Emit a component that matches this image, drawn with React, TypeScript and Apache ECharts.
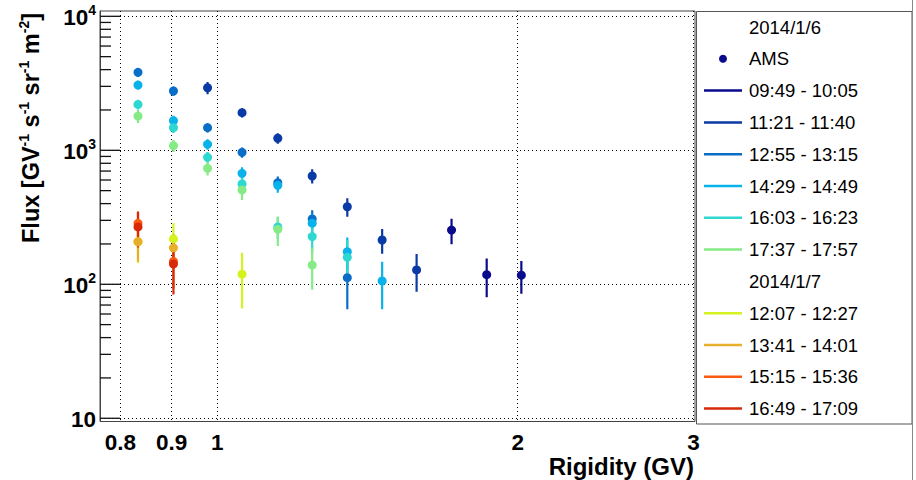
import React, { useEffect, useRef } from "react";
import * as echarts from "echarts";

// ---- axis ticks ----
const RIGIDITY_TICKS = [0.8, 0.9, 1, 2, 3];
const FLUX_TICKS = [10, 100, 1000, 10000];
const FLUX_MINOR = [20, 30, 40, 50, 60, 70, 80, 90, 200, 300, 400, 500, 600, 700, 800, 900, 2000, 3000, 4000, 5000, 6000, 7000, 8000, 9000];

// ---- axis ranges ----
const X_MIN = 0.7631;
const X_MAX = 3.0107;
const Y_MIN = 9.46;
const Y_MAX = 10955;

// ---- legend headers ----
const DAY1 = "2014/1/6";
const DAY2 = "2014/1/7";
const MARKER_LABEL = "AMS";

// ---- series (name, colour) ----
const NAMES_DAY1 = ["09:49 - 10:05", "11:21 - 11:40", "12:55 - 13:15", "14:29 - 14:49", "16:03 - 16:23", "17:37 - 17:57"];
const NAMES_DAY2 = ["12:07 - 12:27", "13:41 - 14:01", "15:15 - 15:36", "16:49 - 17:09"];
const COLORS_DAY1 = ["#0a0a8c", "#0a3aa6", "#0a6ec8", "#0ab2ea", "#2cd8d0", "#86ea86"];
const COLORS_DAY2 = ["#d6f21e", "#e8b02a", "#fa5a14", "#d82a0a"];

// ---- data: rigidity (GV), flux, flux error ----
const R_0949 = [1.717, 1.862, 2.017];
const F_0949 = [254, 118, 117];
const E_0949 = [55, 38, 32];

const R_1121 = [0.978, 1.059, 1.15, 1.245, 1.35, 1.463, 1.584];
const F_1121 = [2930, 1910, 1230, 643, 379, 214, 128];
const E_1121 = [310, 150, 113, 78, 60, 45, 40];

const R_1255 = [0.833, 0.904, 0.978, 1.059, 1.15, 1.245, 1.35];
const F_1255 = [3820, 2770, 1475, 966, 573, 307, 112];
const E_1255 = [280, 220, 120, 85, 65, 50, 47];

const R_1429 = [0.833, 0.904, 0.978, 1.059, 1.15, 1.245, 1.35, 1.463];
const F_1429 = [3070, 1663, 1109, 673, 548, 286, 175, 106];
const E_1429 = [230, 150, 100, 75, 65, 48, 48, 41];

const R_1603 = [0.833, 0.904, 0.978, 1.059, 1.15, 1.245, 1.35];
const F_1603 = [2200, 1475, 887, 561, 268, 227, 159];
const E_1603 = [180, 130, 85, 65, 50, 55, 55];

const R_1737 = [0.833, 0.904, 0.978, 1.059, 1.15, 1.245];
const F_1737 = [1800, 1082, 734, 506, 257, 139];
const E_1737 = [200, 110, 86, 80, 64, 48];

const R_1207 = [0.833, 0.904, 1.059];
const F_1207 = [208, 218, 119];
const E_1207 = [64, 67, 53];

const R_1341 = [0.833, 0.904];
const F_1341 = [208, 187];
const E_1341 = [60, 50];

const R_1515 = [0.833, 0.904];
const F_1515 = [285, 148];
const E_1515 = [65, 55];

const R_1649 = [0.833, 0.904];
const F_1649 = [268, 142];
const E_1649 = [80, 58];

const SERIES_R = [R_0949, R_1121, R_1255, R_1429, R_1603, R_1737, R_1207, R_1341, R_1515, R_1649];
const SERIES_F = [F_0949, F_1121, F_1255, F_1429, F_1603, F_1737, F_1207, F_1341, F_1515, F_1649];
const SERIES_E = [E_0949, E_1121, E_1255, E_1429, E_1603, E_1737, E_1207, E_1341, E_1515, E_1649];

const FONT = "Liberation Sans";

export default function App() {
  const ref = useRef<HTMLDivElement>(null);

  useEffect(() => {
    document.body.style.margin = "0";
    if (!ref.current) return;
    const chart = echarts.init(ref.current, undefined, { renderer: "svg" });

    const names = [...NAMES_DAY1, ...NAMES_DAY2];
    const colors = [...COLORS_DAY1, ...COLORS_DAY2];

    const series: any[] = [];

    // y-axis tick marks, placed on the axis scale at the left frame, pointing inward
    const tickSeries = (vals: number[], len: number) => ({
      type: "scatter",
      silent: true,
      clip: false,
      xAxisIndex: 0,
      yAxisIndex: 0,
      symbol: "rect",
      symbolSize: [len, 1.3],
      symbolOffset: [len / 2, 0],
      itemStyle: { color: "#111", opacity: 1 },
      data: vals.map((v) => [X_MIN, v]),
      z: 3,
    });
    series.push(tickSeries(FLUX_TICKS, 20));
    series.push(tickSeries(FLUX_MINOR, 11));

    names.forEach((name, i) => {
      const color = colors[i];
      const R = SERIES_R[i];
      const F = SERIES_F[i];
      const E = SERIES_E[i];
      series.push({
        type: "custom",
        name: name + " err",
        xAxisIndex: 0,
        yAxisIndex: 0,
        silent: true,
        clip: true,
        encode: { x: 0, y: 1 },
        data: R.map((r, j) => [r, F[j], E[j]]),
        renderItem: (params: any, api: any) => {
          const x = api.value(0);
          const y = api.value(1);
          const e = api.value(2);
          const p1 = api.coord([x, y + e]);
          const p2 = api.coord([x, Math.max(y - e, 1)]);
          return {
            type: "line",
            shape: { x1: p1[0], y1: p1[1], x2: p2[0], y2: p2[1] },
            style: { stroke: color, lineWidth: 2.2 },
          };
        },
      });
      series.push({
        type: "scatter",
        name,
        xAxisIndex: 0,
        yAxisIndex: 0,
        symbol: "circle",
        symbolSize: 9,
        itemStyle: { color, opacity: 1 },
        data: R.map((r, j) => [r, F[j]]),
      });
    });

    // legend (graphic)
    const rowY0 = 27;
    const rowStep = 31.8;
    const textX = 749;
    const legendEls: any[] = [
      {
        type: "rect",
        shape: { x: 696.5, y: 11.5, width: 215.5, height: 412.5 },
        style: { fill: "#fff", stroke: "#555", lineWidth: 1 },
        z: 10,
      },
    ];
    const rows: { kind: string; label: string; color?: string }[] = [];
    rows.push({ kind: "header", label: DAY1 });
    rows.push({ kind: "marker", label: MARKER_LABEL, color: COLORS_DAY1[0] });
    NAMES_DAY1.forEach((n, i) => rows.push({ kind: "line", label: n, color: COLORS_DAY1[i] }));
    rows.push({ kind: "header", label: DAY2 });
    NAMES_DAY2.forEach((n, i) => rows.push({ kind: "line", label: n, color: COLORS_DAY2[i] }));
    rows.forEach((row, i) => {
      const y = rowY0 + rowStep * i;
      if (row.kind === "line") {
        legendEls.push({
          type: "line",
          shape: { x1: 704, y1: y, x2: 742, y2: y },
          style: { stroke: row.color, lineWidth: 2.5 },
          z: 11,
        });
      } else if (row.kind === "marker") {
        legendEls.push({
          type: "circle",
          shape: { cx: 723, cy: y, r: 4 },
          style: { fill: row.color },
          z: 11,
        });
      }
      legendEls.push({
        type: "text",
        x: textX,
        y,
        style: {
          text: row.label,
          fill: "#000",
          font: `18.5px "${FONT}"`,
          align: "left",
          verticalAlign: "middle",
        },
        z: 11,
      });
    });

    const graphic: any[] = [
      ...legendEls,
      {
        type: "line",
        shape: { x1: 912.5, y1: 0, x2: 912.5, y2: 480 },
        style: { stroke: "#888", lineWidth: 1 },
        z: 12,
      },
      {
        type: "text",
        x: 30,
        y: 128,
        rotation: Math.PI / 2,
        style: {
          text: "{m|Flux [GV}{s|-1}{m| s}{s|-1}{m| sr}{s|-1}{m| m}{s|-2}{m|]}",
          align: "center",
          verticalAlign: "middle",
          fill: "#000",
          rich: {
            m: { fontSize: 23.5, fontWeight: "bold", fontFamily: FONT, fill: "#000", lineHeight: 26, verticalAlign: "bottom" },
            s: { fontSize: 14, fontWeight: "bold", fontFamily: FONT, fill: "#000", lineHeight: 26, verticalAlign: "top" },
          },
        },
      },
      {
        type: "text",
        x: 694,
        y: 466,
        style: {
          text: "Rigidity (GV)",
          align: "right",
          verticalAlign: "middle",
          fill: "#000",
          font: `bold 24px "${FONT}"`,
        },
      },
    ];

    const option: any = {
      animation: false,
      backgroundColor: "#fff",
      grid: {
        left: 100,
        right: 221,
        top: 11,
        bottom: 58.5,
        show: true,
        borderColor: "#444",
        borderWidth: 1,
        backgroundColor: "transparent",
      },
      xAxis: {
        type: "log",
        logBase: 10,
        min: X_MIN,
        max: X_MAX,
        axisLine: { show: false },
        axisTick: { show: false, customValues: RIGIDITY_TICKS },
        axisLabel: {
          customValues: RIGIDITY_TICKS,
          formatter: (v: number) => String(Math.round(v * 10) / 10),
          fontSize: 22.5,
          fontWeight: "bold",
          fontFamily: FONT,
          color: "#000",
          margin: 9,
        },
        splitLine: { show: true, lineStyle: { color: "#000", type: [1, 3], width: 1 } },
        minorTick: { show: false },
      },
      yAxis: {
        type: "log",
        logBase: 10,
        min: Y_MIN,
        max: Y_MAX,
        axisLine: { show: true, lineStyle: { color: "#444", width: 1 } },
        axisTick: { show: false, customValues: FLUX_TICKS },
        axisLabel: {
          customValues: FLUX_TICKS,
          margin: 4,
          formatter: (v: number) => {
            const e = Math.round(Math.log10(v));
            if (e === 1) return "{b|10}";
            return "{b|10}{s|" + e + "}";
          },
          rich: {
            b: { fontSize: 22.5, fontWeight: "bold", fontFamily: FONT, color: "#000", lineHeight: 26, verticalAlign: "bottom" },
            s: { fontSize: 14, fontWeight: "bold", fontFamily: FONT, color: "#000", lineHeight: 26, verticalAlign: "top" },
          },
        },
        splitLine: { show: true, lineStyle: { color: "#000", type: [1, 3], width: 1 } },
      },
      series,
      graphic,
    };

    chart.setOption(option);
    return () => chart.dispose();
  }, []);

  return <div ref={ref} style={{ width: 916, height: 480 }} />;
}
